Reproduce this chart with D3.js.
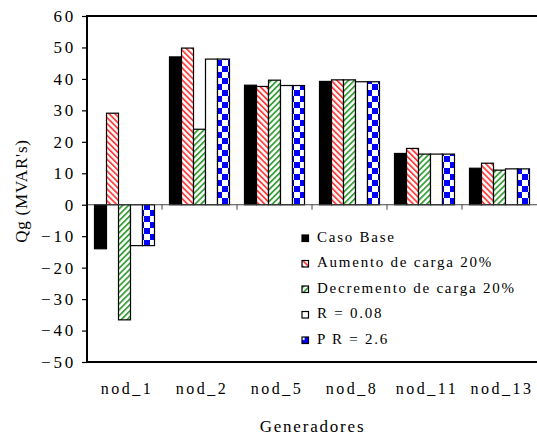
<!DOCTYPE html>
<html>
<head>
<meta charset="utf-8">
<script src="https://cdn.jsdelivr.net/npm/d3@7"></script>
<style>
  html, body { margin: 0; padding: 0; background: #fff; }
  svg text { font-family: "Liberation Serif", "Times New Roman", Times, "DejaVu Serif", serif !important; fill: #000; }
</style>
</head>
<body>
<svg id="chart" width="537" height="440"></svg>
<script>
// Generator nodes and reactive power per scenario (MVAR)
const categories = ["nod_1", "nod_2", "nod_5", "nod_8", "nod_11", "nod_13"];
const seriesNames = ["Caso Base", "Aumento de carga 20%", "Decremento de carga 20%", "R = 0.08", "P R = 2.6"];
const casoBase   = [-14.0, 47.0, 38.0, 39.2, 16.3, 11.6];
const aumento    = [29.1, 49.8, 37.6, 39.7, 17.9, 13.2];
const decremento = [-36.6, 24.0, 39.6, 39.7, 16.1, 11.0];
const rValue     = [-13.0, 46.3, 37.9, 39.1, 16.1, 11.4];
const prValue    = [-13.0, 46.3, 37.9, 39.1, 16.1, 11.4];
const yTicks = [60, 50, 40, 30, 20, 10, 0, -10, -20, -30, -40, -50];

const seriesValues = [casoBase, aumento, decremento, rValue, prValue];
const fills = ["#000", "url(#stripeRed)", "url(#stripeGreen)", "#fff", "url(#checkBlue)"];
const legendFills = ["#000", "url(#stripeRed)", "url(#stripeGreen)", "#fff", "url(#checkBlueKey)"];

const svg = d3.select("#chart");
const margin = { left: 87, top: 16, right: 0, bottom: 78 };
const W = 537, H = 440;

const x = d3.scaleBand().domain(categories).range([margin.left, W]).paddingInner(0.2).paddingOuter(0.1);
const xGroup = d3.scaleBand().domain(categories).range([margin.left, W]);
const xs = d3.scaleBand().domain(d3.range(seriesNames.length)).range([0, x.bandwidth()]);
const y = d3.scaleLinear().domain([-50, 60]).range([H - margin.bottom, margin.top]);

// Fill patterns
const defs = svg.append("defs");
const red = defs.append("pattern").attr("id", "stripeRed").attr("patternUnits", "userSpaceOnUse")
  .attr("width", 4.2).attr("height", 4.2).attr("patternTransform", "rotate(-45)");
red.append("rect").attr("width", 4.2).attr("height", 4.2).attr("fill", "#fff");
red.append("rect").attr("width", 1.8).attr("height", 4.2).attr("fill", "#ff4040");

const green = defs.append("pattern").attr("id", "stripeGreen").attr("patternUnits", "userSpaceOnUse")
  .attr("width", 4.2).attr("height", 4.2).attr("patternTransform", "rotate(45)");
green.append("rect").attr("width", 4.2).attr("height", 4.2).attr("fill", "#fff");
green.append("rect").attr("width", 1.8).attr("height", 4.2).attr("fill", "#3aa03a");

const check = defs.append("pattern").attr("id", "checkBlue").attr("patternUnits", "userSpaceOnUse")
  .attr("width", 12).attr("height", 12);
check.append("rect").attr("width", 12).attr("height", 12).attr("fill", "#fff");
check.append("rect").attr("x", 0).attr("y", 0).attr("width", 6).attr("height", 6).attr("fill", "#0000ff");
check.append("rect").attr("x", 6).attr("y", 6).attr("width", 6).attr("height", 6).attr("fill", "#0000ff");

// Legend key for the checker series: blue with a white corner
const checkKey = defs.append("pattern").attr("id", "checkBlueKey").attr("patternUnits", "objectBoundingBox")
  .attr("patternContentUnits", "objectBoundingBox").attr("width", 1).attr("height", 1);
checkKey.append("rect").attr("width", 1).attr("height", 1).attr("fill", "#0000ff");
checkKey.append("rect").attr("width", 0.4).attr("height", 0.45).attr("fill", "#fff");

// Bars
const rows = [];
categories.forEach((c, i) => seriesValues.forEach((vals, s) => rows.push({ c, s, v: vals[i] })));
svg.append("g").selectAll("rect").data(rows).join("rect")
  .attr("x", d => x(d.c) + xs(d.s))
  .attr("width", xs.bandwidth())
  .attr("y", d => y(Math.max(0, d.v)))
  .attr("height", d => Math.abs(y(d.v) - y(0)))
  .attr("fill", d => fills[d.s])
  .attr("stroke", "#000").attr("stroke-width", 1.2);

// Zero line with category separators
svg.append("line").attr("x1", margin.left).attr("x2", W).attr("y1", y(0)).attr("y2", y(0))
  .attr("stroke", "#444").attr("stroke-width", 1.2);
svg.append("g").selectAll("line").data(categories.slice(1)).join("line")
  .attr("x1", d => xGroup(d)).attr("x2", d => xGroup(d))
  .attr("y1", y(0)).attr("y2", y(0) + 5).attr("stroke", "#444");

// Frame
svg.append("path")
  .attr("d", `M${W},${margin.top}H${margin.left}V${H - margin.bottom}H${W}`)
  .attr("fill", "none").attr("stroke", "#000").attr("stroke-width", 2);

// Y axis
const yAxis = d3.axisLeft(y).tickValues(yTicks).tickSize(5).tickPadding(6).tickFormat(d3.format("d"));
const gy = svg.append("g").attr("transform", `translate(${margin.left},0)`).call(yAxis);
gy.select(".domain").remove();
gy.selectAll("line").attr("stroke", "#000").attr("stroke-width", 1.2);
gy.selectAll("text").attr("font-size", 17).attr("letter-spacing", 2.8);

// Category labels
svg.append("g").selectAll("text").data(categories).join("text")
  .attr("x", d => xGroup(d) + xGroup.bandwidth() / 2 + 2.5)
  .attr("y", 394)
  .attr("text-anchor", "middle").attr("font-size", 16).attr("letter-spacing", 2.5)
  .text(d => d);

// Axis titles
svg.append("text").attr("x", (margin.left + W) / 2 + 0.5).attr("y", 432)
  .attr("text-anchor", "middle").attr("font-size", 17).attr("letter-spacing", 1.8)
  .text("Generadores");
svg.append("text")
  .attr("transform", `translate(27,${(margin.top + H - margin.bottom) / 2 + 2}) rotate(-90)`)
  .attr("text-anchor", "middle").attr("font-size", 17).attr("letter-spacing", 0.8)
  .text("Qg (MVAR's)");

// Legend
const legend = svg.append("g").attr("transform", "translate(302,241.5)");
const li = legend.selectAll("g").data(seriesNames).join("g")
  .attr("transform", (d, i) => `translate(0,${i * 25.5})`);
li.append("rect").attr("x", 0).attr("y", -6.5).attr("width", 6.5).attr("height", 6.5)
  .attr("fill", (d, i) => legendFills[i]).attr("stroke", "#000").attr("stroke-width", 1.2);
li.append("text").attr("x", 15).attr("y", 0).attr("font-size", 15).attr("letter-spacing", 1.75)
  .text(d => d);
</script>
</body>
</html>
